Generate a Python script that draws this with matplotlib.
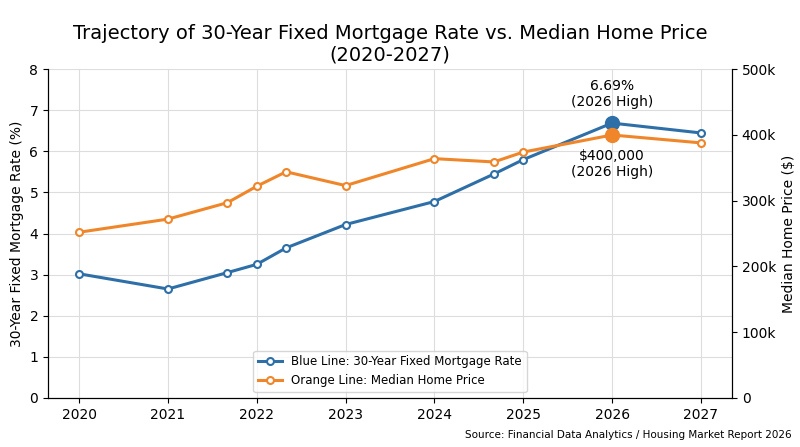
import matplotlib.pyplot as plt
import numpy as np

years = [2020, 2021, 2021.67, 2022, 2022.33, 2023, 2024, 2024.67, 2025, 2026, 2027]
rate = [3.02, 2.65, 3.05, 3.25, 3.65, 4.22, 4.78, 5.45, 5.8, 6.69, 6.45]
price_k = [252, 272, 297, 322, 344, 323, 364, 359, 374, 400, 388]

blue = '#2e6fa8'
orange = '#f0862a'

fig, ax = plt.subplots(figsize=(8, 4.47), dpi=100)
ax2 = ax.twinx()

ax.plot(years, rate, color=blue, lw=2.2, marker='o', ms=5, mfc='white', mew=1.5,
        label='Blue Line: 30-Year Fixed Mortgage Rate')
ax2.plot(years, price_k, color=orange, lw=2.2, marker='o', ms=5, mfc='white', mew=1.5,
         label='Orange Line: Median Home Price')
ax.plot([2026], [6.69], 'o', color=blue, ms=10, zorder=5)
ax2.plot([2026], [400], 'o', color=orange, ms=10, zorder=5)

ax.annotate('6.69%\n(2026 High)', (2026, 6.69), xytext=(0, 10), textcoords='offset points',
            ha='center', va='bottom', fontsize=10)
ax2.annotate('$400,000\n(2026 High)', (2026, 400), xytext=(0, -10), textcoords='offset points',
             ha='center', va='top', fontsize=10)

ax.set_xlim(2019.65, 2027.35)
ax.set_ylim(0, 8)
ax2.set_ylim(0, 500)
ax.set_xticks(range(2020, 2028))
ax2.set_yticks(range(0, 501, 100))
ax2.set_yticklabels(['0'] + [f'{v}k' for v in range(100, 501, 100)])
ax.set_ylabel('30-Year Fixed Mortgage Rate (%)', fontsize=10)
ax2.set_ylabel('Median Home Price ($)', fontsize=10)
ax.grid(True, color='#dddddd', lw=0.8)
ax.set_axisbelow(True)
for a in (ax, ax2):
    a.spines['top'].set_visible(False)
    a.tick_params(labelsize=10)

ax.set_title('Trajectory of 30-Year Fixed Mortgage Rate vs. Median Home Price\n(2020-2027)',
             fontsize=14)
h1, l1 = ax.get_legend_handles_labels()
h2, l2 = ax2.get_legend_handles_labels()
ax.legend(h1 + h2, l1 + l2, loc='lower center', bbox_to_anchor=(0.5, 0.0), fontsize=8.5)

fig.text(0.99, 0.02, 'Source: Financial Data Analytics / Housing Market Report 2026',
         ha='right', fontsize=7.5)
fig.subplots_adjust(left=0.06, right=0.915, top=0.845, bottom=0.11)
fig.savefig('out.png', dpi=100)
